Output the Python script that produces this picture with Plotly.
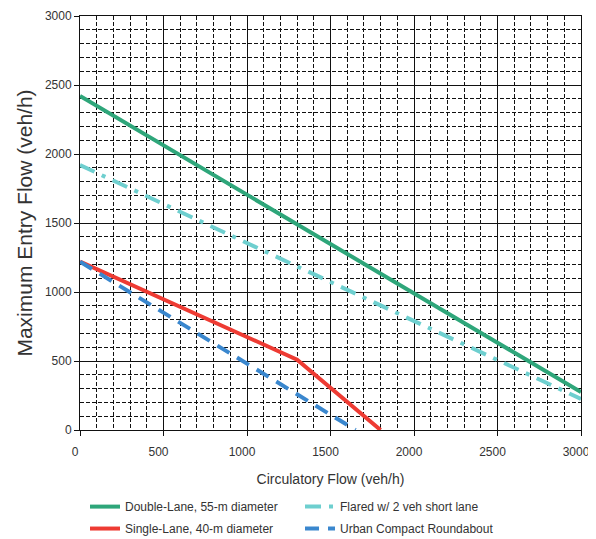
import plotly.graph_objects as go

# Data
double_x = [0, 3000]
double_y = [2420, 275]
flared_x = [0, 3000]
flared_y = [1920, 225]
single_x = [0, 1300, 1800]
single_y = [1220, 510, 0]
urban_x = [0, 1650]
urban_y = [1220, 0]

names = ["Double-Lane, 55-m diameter", "Flared w/ 2 veh short lane",
         "Single-Lane, 40-m diameter", "Urban Compact Roundabout"]

FONT = "Liberation Sans Narrow, Arial Narrow, Liberation Sans, sans-serif"

fig = go.Figure()
fig.add_trace(go.Scatter(x=double_x, y=double_y, mode="lines", name=names[0],
                         legend="legend",
                         line=dict(color="#2EA67A", width=4)))
fig.add_trace(go.Scatter(x=flared_x, y=flared_y, mode="lines", name=names[1],
                         legend="legend",
                         line=dict(color="#6ECFCF", width=4, dash="16px,8px,4px,8px")))
fig.add_trace(go.Scatter(x=single_x, y=single_y, mode="lines", name=names[2],
                         legend="legend2",
                         line=dict(color="#EE3B33", width=4)))
fig.add_trace(go.Scatter(x=urban_x, y=urban_y, mode="lines", name=names[3],
                         legend="legend2",
                         line=dict(color="#3A87CE", width=4, dash="14px,9px")))

axis_common = dict(
    showgrid=True, gridcolor="#111", gridwidth=1,
    showline=True, mirror=True, linecolor="#111", linewidth=1,
    ticks="outside", ticklen=5, tickcolor="#111",
    zeroline=False, automargin=False,
    tickfont=dict(family=FONT, size=12, color="#333"),
)

fig.update_xaxes(range=[0, 3000], dtick=500, tick0=0,
                 minor=dict(dtick=100, showgrid=True, gridcolor="#111",
                            gridwidth=1, griddash="4px,2px", ticks=""),
                 ticklabelshift=-5, ticklabelstandoff=6,
                 title=dict(text="Circulatory Flow (veh/h)",
                            font=dict(family=FONT, size=14, color="#333"),
                            standoff=15),
                 **axis_common)
fig.update_yaxes(range=[0, 3000], dtick=500, tick0=0,
                 minor=dict(dtick=100, showgrid=True, gridcolor="#111",
                            gridwidth=1, griddash="4px,2px", ticks=""),
                 title=dict(text="Maximum Entry Flow (veh/h)",
                            font=dict(family=FONT, size=21, color="#333"),
                            standoff=6),
                 **axis_common)

leg_common = dict(orientation="h", x=0.01, xanchor="left", yanchor="top",
                  entrywidth=170, entrywidthmode="pixels",
                  font=dict(family=FONT, size=12, color="#333"),
                  tracegroupgap=0, itemwidth=30)

# page body has an 8px margin, so the figure is sized 8px smaller
fig.update_layout(
    width=588, height=531,
    margin=dict(l=72, r=15, t=8, b=109, autoexpand=False),
    plot_bgcolor="white", paper_bgcolor="white",
    legend=dict(y=-0.150, **leg_common),
    legend2=dict(y=-0.203, **leg_common),
)

fig.write_html("out.html")
